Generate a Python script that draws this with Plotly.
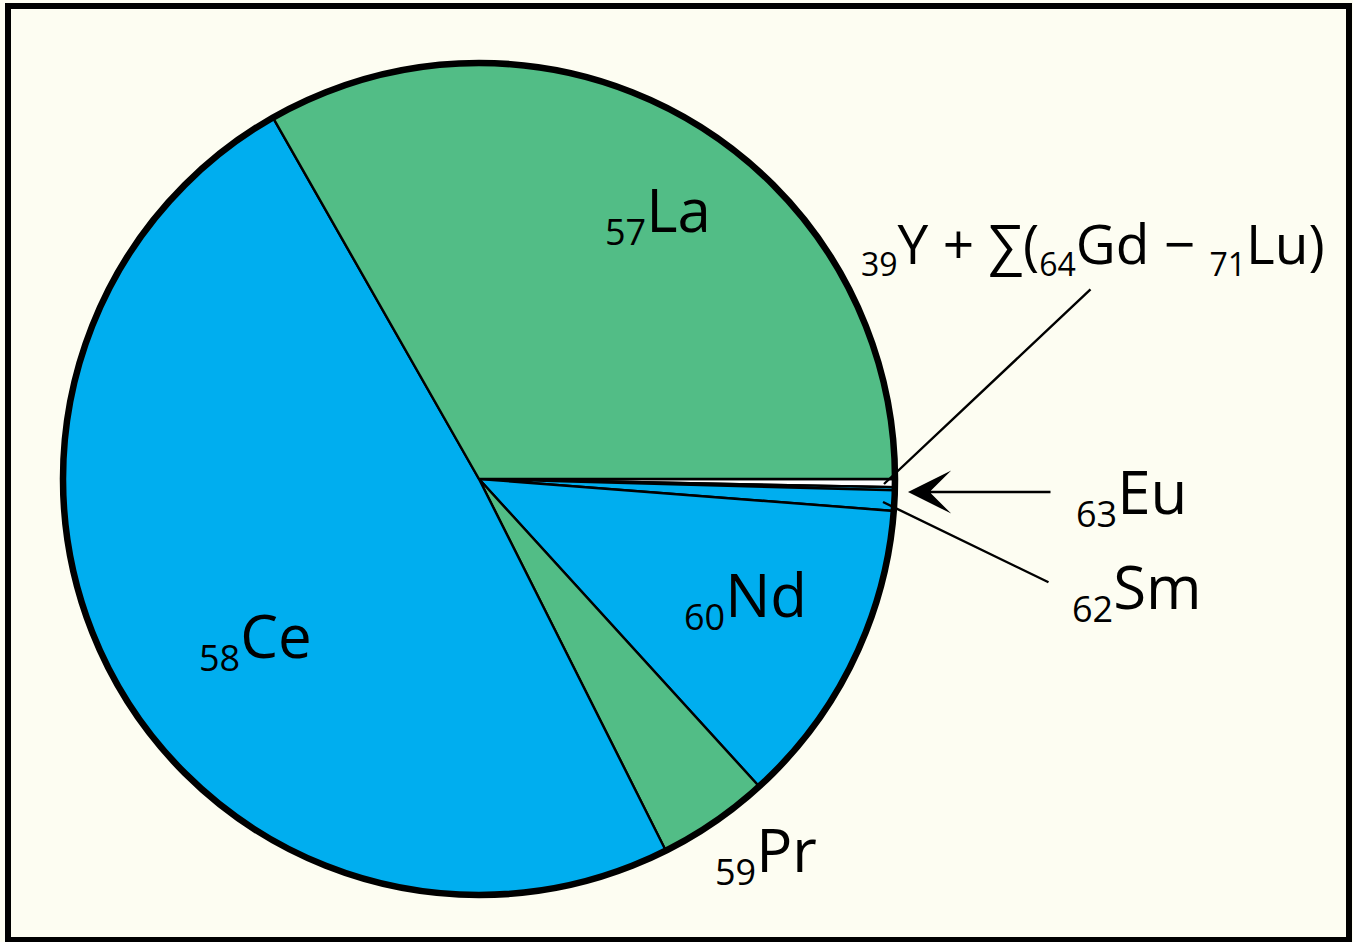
import plotly.graph_objects as go

W, H = 1353, 942

# Data: share (%) of rare-earth elements (counterclockwise from 3 o'clock)
elements = ["La", "Ce", "Pr", "Nd", "Sm", "Eu", "Y+Gd–Lu"]
atomic_numbers = [57, 58, 59, 60, 62, 63, 39]
shares = [33.2, 49.1, 4.34, 12.0, 0.789, 0.118, 0.315]
colors = ["#52BD86", "#00AEEF", "#52BD86", "#00AEEF", "#00AEEF", "#00AEEF", "#FFFFFF"]

FONT = "Open Sans"
BG = "#FDFDF2"

def px(x):
    return x / W

def py(y):
    return 1 - y / H

cx, cy, r = 479, 479, 416
dom_x = [px(cx - r), px(cx + r)]
dom_y = [py(cy + r), py(cy - r)]

fig = go.Figure()
# clockwise from 3 o'clock = reversed order of the lists
fig.add_trace(go.Pie(
    labels=elements[::-1], values=shares[::-1], sort=False,
    direction="clockwise", rotation=90,
    marker=dict(colors=colors[::-1], line=dict(color="black", width=2.4)),
    textinfo="none", showlegend=False, hoverinfo="label+value",
    domain=dict(x=dom_x, y=dom_y),
))
# thick outer outline
fig.add_trace(go.Pie(
    labels=["outline"], values=[1], sort=False,
    marker=dict(colors=["rgba(0,0,0,0)"], line=dict(color="black", width=6.5)),
    textinfo="none", showlegend=False, hoverinfo="skip",
    domain=dict(x=dom_x, y=dom_y),
))

def sub(num, size):
    return f"<sub><span style='font-size:{size}px'>{num}</span></sub>"

annos = []
label_pos = {
    "La": (658, 212),
    "Ce": (255, 638),
    "Pr": (766, 852),
    "Nd": (745, 597),
    "Eu": (1131, 494),
    "Sm": (1137, 589),
}
for el, num in zip(elements, atomic_numbers):
    if el in label_pos:
        x, y = label_pos[el]
        annos.append(dict(
            x=px(x), y=py(y), xref="paper", yref="paper",
            text=sub(num, 36) + el, showarrow=False,
            font=dict(family=FONT, size=60, color="black"),
            xanchor="center", yanchor="middle",
        ))

annos.append(dict(
    x=px(1093), y=py(245), xref="paper", yref="paper",
    text=f"{sub(39, 32)}Y + ∑({sub(64, 32)}Gd − {sub(71, 32)}Lu)", showarrow=False,
    font=dict(family=FONT, size=55, color="black"),
    xanchor="center", yanchor="middle",
))

# pointer lines
def pointer(x_tip, y_tip, x_tail, y_tail, head, size):
    return dict(
        x=px(x_tip), y=py(y_tip), xref="paper", yref="paper",
        ax=x_tail - x_tip, ay=y_tail - y_tip, axref="pixel", ayref="pixel",
        text="", showarrow=True, arrowhead=head, arrowsize=size,
        arrowwidth=2.4, arrowcolor="black", standoff=0, startstandoff=0,
    )

annos.append(pointer(884, 484, 1092, 288, 0, 1))
annos.append(pointer(908, 492, 1052, 492, 3, 3.0))
annos.append(pointer(883, 502, 1050, 583, 0, 1))

fig.update_layout(
    width=W, height=H,
    margin=dict(l=0, r=0, t=0, b=0),
    paper_bgcolor=BG, plot_bgcolor=BG,
    annotations=annos,
    shapes=[dict(type="rect", xref="paper", yref="paper",
                 x0=px(8), x1=px(1349), y0=py(940), y1=py(6),
                 line=dict(color="black", width=6), fillcolor="rgba(0,0,0,0)")],
)

fig.write_html("out.html",
               config={"displayModeBar": False},
               post_script="document.body.style.margin='0px';document.body.style.overflow='hidden';")
